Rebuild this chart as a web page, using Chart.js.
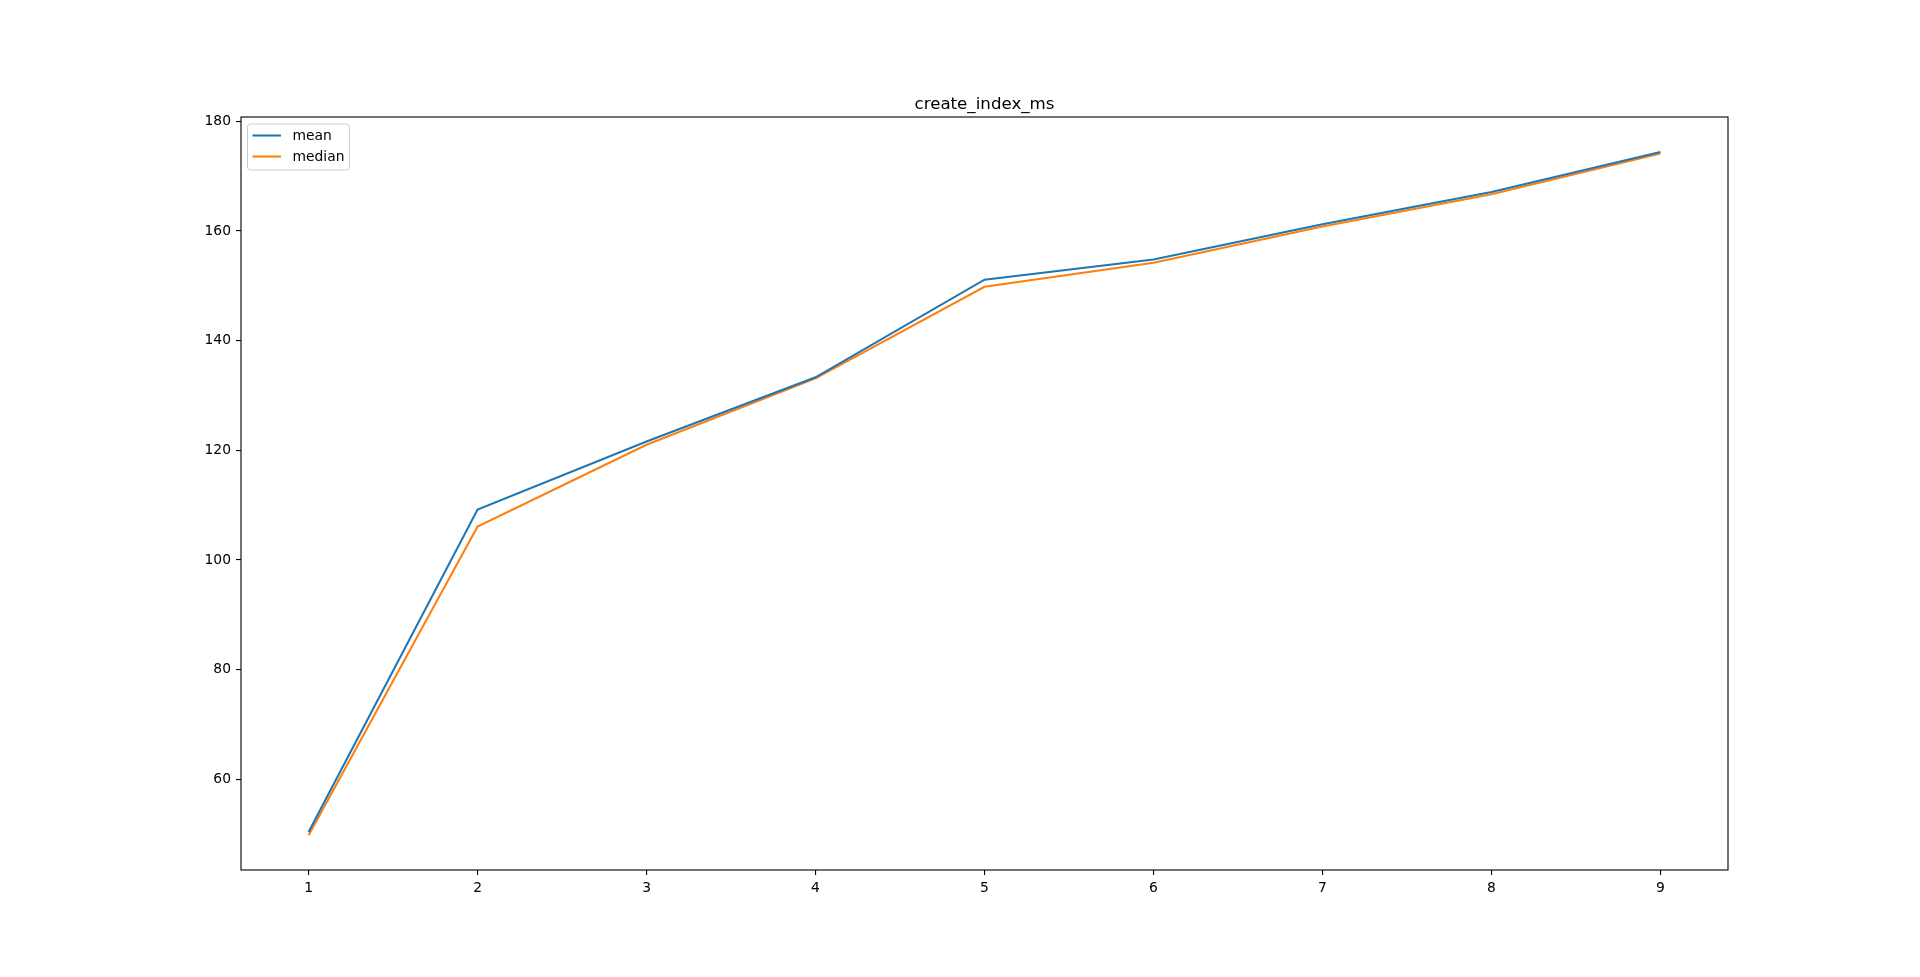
<!DOCTYPE html>
<html>
<head>
<meta charset="utf-8">
<script src="https://cdn.jsdelivr.net/npm/chart.js@4/dist/chart.umd.min.js"></script>
<style>
  html, body { margin: 0; padding: 0; background: #fff; }
  canvas { display: block; }
</style>
</head>
<body>
<canvas id="myChart" width="1920" height="977"></canvas>
<script>
const runs = [1, 2, 3, 4, 5, 6, 7, 8, 9]
const meanMs = [50.4, 109.2, 121.6, 133.3, 151.1, 154.8, 161.2, 167.1, 174.4]
const medianMs = [49.8, 106.1, 121.0, 133.1, 149.8, 154.2, 160.8, 166.7, 174.1]
const xTicks = [1, 2, 3, 4, 5, 6, 7, 8, 9]
const yTicks = [60, 80, 100, 120, 140, 160, 180]
const chartTitle = 'create_index_ms'

const FONT = 'DejaVu Sans'

// box around the axes + title + legend drawn the matplotlib way
const frame = {
  id: 'frame',
  afterDraw(chart) {
    const ctx = chart.ctx
    const a = chart.chartArea
    ctx.save()
    ctx.strokeStyle = '#000'
    ctx.lineWidth = 1.1
    ctx.strokeRect(a.left, a.top, a.right - a.left, a.bottom - a.top)

    ctx.fillStyle = '#000'
    ctx.font = '16.67px "' + FONT + '"'
    ctx.textAlign = 'center'
    ctx.textBaseline = 'alphabetic'
    ctx.fillText(chartTitle, (a.left + a.right) / 2, a.top - 8)

    // legend
    const lx = a.left + 6.5, ly = a.top + 7
    const w = 102, h = 46, r = 3
    ctx.beginPath()
    ctx.roundRect(lx, ly, w, h, r)
    ctx.fillStyle = 'rgba(255,255,255,0.8)'
    ctx.fill()
    ctx.strokeStyle = '#cccccc'
    ctx.lineWidth = 1
    ctx.stroke()
    ctx.font = '13.89px "' + FONT + '"'
    ctx.textAlign = 'left'
    ctx.textBaseline = 'middle'
    chart.data.datasets.forEach((ds, i) => {
      const y = ly + 11.5 + i * 21
      ctx.strokeStyle = ds.borderColor
      ctx.lineWidth = 2.08
      ctx.beginPath()
      ctx.moveTo(lx + 5, y)
      ctx.lineTo(lx + 33.5, y)
      ctx.stroke()
      ctx.fillStyle = '#000'
      ctx.fillText(ds.label, lx + 45, y + 1)
    })
    ctx.restore()
  }
}

const tickStyle = {
  color: '#000',
  font: { family: FONT, size: 13.89 },
  padding: 5
}
const gridStyle = {
  display: true,
  drawOnChartArea: false,
  drawTicks: true,
  tickLength: 5,
  color: '#000',
  lineWidth: 1.1
}

new Chart('myChart', {
  type: 'line',
  data: {
    datasets: [
      {
        label: 'mean',
        data: runs.map((r, i) => ({ x: r, y: meanMs[i] })),
        borderColor: '#1f77b4',
        backgroundColor: '#1f77b4',
        borderWidth: 2.08,
        pointRadius: 0,
        tension: 0
      },
      {
        label: 'median',
        data: runs.map((r, i) => ({ x: r, y: medianMs[i] })),
        borderColor: '#ff7f0e',
        backgroundColor: '#ff7f0e',
        borderWidth: 2.08,
        pointRadius: 0,
        tension: 0
      }
    ]
  },
  options: {
    responsive: false,
    devicePixelRatio: 1,
    animation: false,
    layout: { padding: { left: 181, right: 192, top: 117, bottom: 67 } },
    plugins: {
      legend: { display: false },
      title: { display: false },
      tooltip: { enabled: false }
    },
    scales: {
      x: {
        type: 'linear',
        min: 0.6,
        max: 9.4,
        border: { display: false },
        grid: gridStyle,
        ticks: { ...tickStyle, maxRotation: 0, callback: v => String(v) },
        afterBuildTicks: s => { s.ticks = xTicks.map(v => ({ value: v })) },
        afterFit: s => { s.height = 40 }
      },
      y: {
        type: 'linear',
        min: 43.46,
        max: 180.77,
        border: { display: false },
        grid: gridStyle,
        ticks: { ...tickStyle, callback: v => String(v) },
        afterBuildTicks: s => { s.ticks = yTicks.map(v => ({ value: v })) },
        afterFit: s => { s.width = 60 }
      }
    }
  },
  plugins: [frame]
})
</script>
</body>
</html>
